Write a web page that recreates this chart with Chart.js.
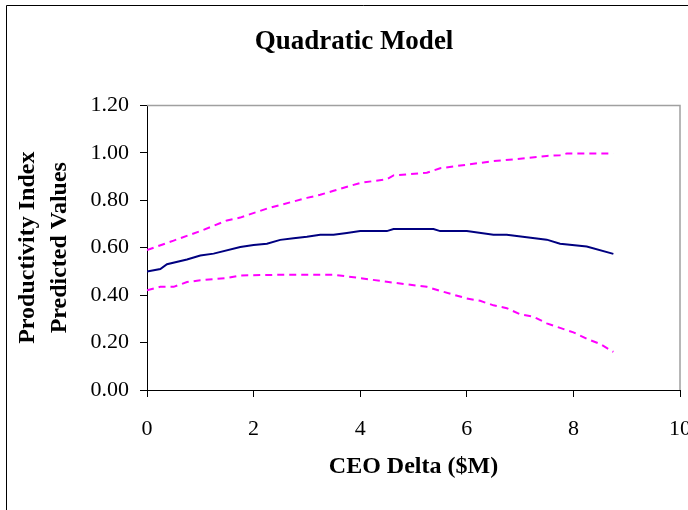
<!DOCTYPE html>
<html>
<head>
<meta charset="utf-8">
<script src="https://cdn.jsdelivr.net/npm/chart.js@4.4.0/dist/chart.umd.min.js"></script>
<style>
  html, body { margin: 0; padding: 0; background: #fff; overflow: hidden; }
  #wrap { width: 688px; height: 510px; overflow: hidden; }
</style>
</head>
<body>
<div id="wrap"><canvas id="chart" width="720" height="510"></canvas></div>
<script>
// Predicted values (solid) with upper / lower bands (dashed)
const predX  = [0, 0.25, 0.375, 0.75, 1.0, 1.25, 1.75, 2.0, 2.25, 2.5, 2.75, 3.0, 3.25, 3.5, 3.75, 4.0, 4.5, 4.625, 5.375, 5.5, 6.0, 6.5, 6.75, 7.5, 7.75, 8.25, 8.75];
const predY  = [0.50, 0.51, 0.53, 0.55, 0.567, 0.575, 0.603, 0.611, 0.617, 0.633, 0.64, 0.646, 0.655, 0.655, 0.662, 0.67, 0.67, 0.679, 0.679, 0.67, 0.67, 0.655, 0.655, 0.634, 0.617, 0.605, 0.574];

const upperX = [0, 0.5, 1.0, 1.5, 1.75, 2.25, 2.5, 3.0, 3.25, 3.5, 4.0, 4.5, 4.625, 5.25, 5.5, 6.0, 6.5, 7.0, 7.5, 7.75, 7.875, 8.75];
const upperY = [0.59, 0.63, 0.67, 0.715, 0.727, 0.765, 0.78, 0.81, 0.823, 0.84, 0.873, 0.889, 0.905, 0.916, 0.935, 0.95, 0.965, 0.975, 0.987, 0.99, 0.997, 0.997];

const lowerX = [0, 0.25, 0.5, 0.75, 1.0, 1.5, 1.75, 2.5, 3.5, 4.0, 4.5, 5.25, 5.5, 6.0, 6.25, 6.5, 6.75, 7.0, 7.25, 7.5, 7.75, 8.0, 8.25, 8.5, 8.75];
const lowerY = [0.42, 0.435, 0.435, 0.455, 0.463, 0.472, 0.483, 0.486, 0.486, 0.472, 0.456, 0.435, 0.418, 0.386, 0.376, 0.357, 0.345, 0.319, 0.309, 0.281, 0.262, 0.243, 0.216, 0.194, 0.161];

const toPoints = (xs, ys) => xs.map((x, i) => ({ x: x, y: ys[i] }));

const serif = "'Liberation Serif', 'Times New Roman', serif";

// рамка вокруг графика и серые верх/право области построения
const framePlugin = {
    id: 'frame',
    afterLayout(chart) {
        // заголовок в оригинале чуть правее центра
        if (chart.titleBlock) chart.titleBlock.left += 28;
    },
    beforeDraw(chart) {
        const ctx = chart.ctx;
        ctx.save();
        ctx.strokeStyle = '#000';
        ctx.lineWidth = 1;
        ctx.beginPath();
        ctx.moveTo(6.5, 510);
        ctx.lineTo(6.5, 5.5);
        ctx.lineTo(720, 5.5);
        ctx.stroke();
        ctx.restore();
    },
    beforeDatasetsDraw(chart) {
        const a = chart.chartArea;
        const ctx = chart.ctx;
        ctx.save();
        ctx.strokeStyle = '#a0a0a0';
        ctx.lineWidth = 1.5;
        ctx.beginPath();
        ctx.moveTo(a.left, a.top);
        ctx.lineTo(a.right, a.top);
        ctx.lineTo(a.right, a.bottom);
        ctx.stroke();
        ctx.restore();
    }
};

const ctx = document.getElementById('chart').getContext('2d');
new Chart(ctx, {
    type: 'line',
    data: {
        datasets: [
            {
                data: toPoints(upperX, upperY),
                borderColor: '#ff00ff',
                borderWidth: 2,
                borderDash: [7, 5],
                pointRadius: 0,
                tension: 0
            },
            {
                data: toPoints(predX, predY),
                borderColor: '#000080',
                borderWidth: 2,
                pointRadius: 0,
                tension: 0
            },
            {
                data: toPoints(lowerX, lowerY),
                borderColor: '#ff00ff',
                borderWidth: 2,
                borderDash: [7, 5],
                pointRadius: 0,
                tension: 0
            }
        ]
    },
    options: {
        responsive: false,
        animation: false,
        layout: { padding: { left: 0, right: 40, top: 0, bottom: 0 } },
        plugins: {
            legend: { display: false },
            tooltip: { enabled: false },
            title: {
                display: true,
                text: 'Quadratic Model',
                color: '#000',
                font: { family: serif, size: 27, weight: 'bold', lineHeight: 1.2 },
                padding: { top: 26, bottom: 47 }
            }
        },
        scales: {
            x: {
                type: 'linear',
                min: 0,
                max: 10,
                afterFit(scale) { scale.height = 120; },
                ticks: {
                    stepSize: 2,
                    color: '#000',
                    padding: 19,
                    maxRotation: 0,
                    font: { family: serif, size: 22 }
                },
                grid: {
                    drawOnChartArea: false,
                    drawTicks: true,
                    tickLength: 7,
                    color: '#000'
                },
                border: { color: '#000', width: 1 },
                title: {
                    display: true,
                    text: 'CEO Delta ($M)',
                    color: '#000',
                    font: { family: serif, size: 24, weight: 'bold', lineHeight: 1.2 },
                    padding: { top: 0, bottom: 29 }
                }
            },
            y: {
                min: 0,
                max: 1.2,
                afterFit(scale) { scale.width = 147; },
                ticks: {
                    stepSize: 0.2,
                    color: '#000',
                    padding: 11,
                    font: { family: serif, size: 22 },
                    callback: (v) => v.toFixed(2)
                },
                grid: {
                    drawOnChartArea: false,
                    drawTicks: true,
                    tickLength: 7,
                    color: '#000'
                },
                border: { color: '#000', width: 1 },
                title: {
                    display: true,
                    text: ['Productivity Index', 'Predicted Values'],
                    color: '#000',
                    font: { family: serif, size: 24, weight: 'bold', lineHeight: 1.333 },
                    padding: { top: 12, bottom: 0 }
                }
            }
        }
    },
    plugins: [framePlugin]
});
</script>
</body>
</html>
